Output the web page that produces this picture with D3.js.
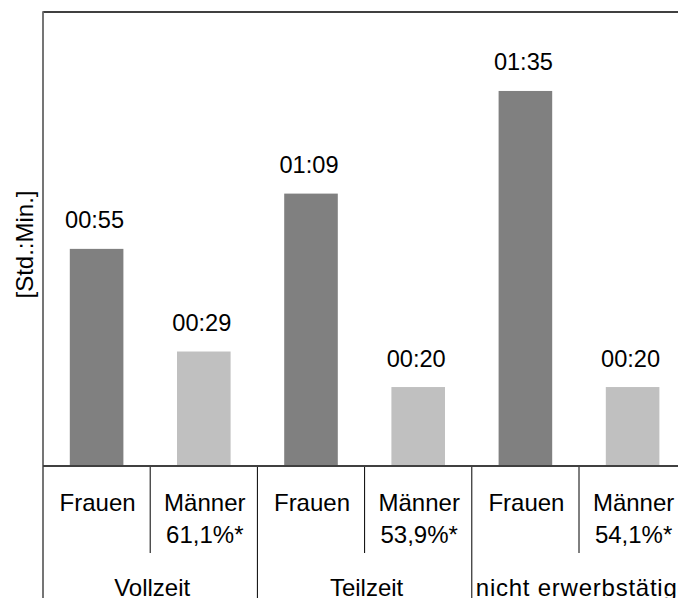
<!DOCTYPE html>
<html>
<head>
<meta charset="utf-8">
<script src="https://cdn.jsdelivr.net/npm/d3@7"></script>
<style>
  html, body { margin: 0; padding: 0; background: #fff; }
  svg { display: block; font-family: "Liberation Sans", Arial, sans-serif; }
</style>
</head>
<body>
<svg id="chart" width="678" height="598"></svg>
<script>
// ---- data ----
const groups = ["Vollzeit", "Teilzeit", "nicht erwerbstätig"];
const subLabels = ["Frauen", "Männer"];
const maennerShare = ["61,1%*", "53,9%*", "54,1%*"];
const minutes = [55, 29, 69, 20, 95, 20];
const valueLabels = ["00:55", "00:29", "01:09", "00:20", "01:35", "00:20"];
const yTitle = "[Std.:Min.]";

(function () {
  // ---- layout ----
  const W = 678, H = 598;
  const mLeft = 43, mTop = 12, base = 466;
  const step = 107.2;
  const svg = d3.select("#chart");

  const bars = minutes.map((v, i) => ({
    id: i,
    value: v,
    label: valueLabels[i],
    sex: i % 2,
    group: Math.floor(i / 2)
  }));

  const x = d3.scaleBand()
    .domain(bars.map(d => d.id))
    .range([mLeft, mLeft + step * bars.length])
    .paddingInner(0.5)
    .paddingOuter(0.25);
  const bw = x.bandwidth();
  const st = x.step();
  const binStart = i => x(i) - st * 0.25;

  const y = d3.scaleLinear().domain([0, 115]).range([base, mTop]);

  const colors = ["#808080", "#c0c0c0"];
  const fs = 24;

  // bars
  svg.append("g").selectAll("rect").data(bars).join("rect")
    .attr("x", d => x(d.id))
    .attr("y", d => y(d.value))
    .attr("width", bw)
    .attr("height", d => y(0) - y(d.value))
    .attr("fill", d => colors[d.sex]);

  // value labels
  svg.append("g").selectAll("text").data(bars).join("text")
    .attr("x", d => x(d.id) + bw / 2 - 2)
    .attr("y", d => y(d.value) - 20.5)
    .attr("text-anchor", "middle")
    .attr("font-size", 23.6)
    .attr("fill", "#000")
    .text(d => d.label);

  // top border
  svg.append("line")
    .attr("x1", mLeft).attr("x2", W)
    .attr("y1", mTop).attr("y2", mTop)
    .attr("stroke", "#000").attr("stroke-width", 1.5);

  // left axis line
  svg.append("line")
    .attr("x1", mLeft).attr("x2", mLeft)
    .attr("y1", mTop - 0.75).attr("y2", H)
    .attr("stroke", "#666").attr("stroke-width", 1.8);

  // sub separators (between Frauen and Männer)
  svg.append("g").selectAll("line").data(groups).join("line")
    .attr("x1", (g, i) => binStart(i * 2 + 1))
    .attr("x2", (g, i) => binStart(i * 2 + 1))
    .attr("y1", base).attr("y2", 553)
    .attr("stroke", "#000").attr("stroke-width", 1);

  // group separators
  svg.append("g").selectAll("line").data(groups.slice(1)).join("line")
    .attr("x1", (g, i) => binStart((i + 1) * 2))
    .attr("x2", (g, i) => binStart((i + 1) * 2))
    .attr("y1", base).attr("y2", H)
    .attr("stroke", "#000").attr("stroke-width", 1);

  // baseline
  svg.append("line")
    .attr("x1", mLeft).attr("x2", W)
    .attr("y1", y(0)).attr("y2", y(0))
    .attr("stroke", "#404040").attr("stroke-width", 2);

  // sub labels
  svg.append("g").selectAll("text").data(bars).join("text")
    .attr("x", d => x(d.id) + bw / 2 + 1)
    .attr("y", 510.5)
    .attr("text-anchor", "middle")
    .attr("font-size", fs)
    .text(d => subLabels[d.sex]);

  // Männer share labels
  svg.append("g").selectAll("text").data(maennerShare).join("text")
    .attr("x", (s, i) => x(i * 2 + 1) + bw / 2 + 1)
    .attr("y", 543)
    .attr("text-anchor", "middle")
    .attr("font-size", fs)
    .text(s => s);

  // group labels
  svg.append("g").selectAll("text").data(groups).join("text")
    .attr("x", (g, i) => binStart(i * 2) + st + 2)
    .attr("y", 595.5)
    .attr("text-anchor", "middle")
    .attr("font-size", fs)
    .each(function (g, i) {
      if (i === groups.length - 1) {
        d3.select(this)
          .attr("x", binStart(i * 2) + 4)
          .attr("text-anchor", "start")
          .attr("textLength", 201)
          .attr("lengthAdjust", "spacing");
      }
    })
    .text(g => g);

  // y-axis title
  svg.append("text")
    .attr("transform", `translate(33, ${(mTop + base) / 2 + 5.5}) rotate(-90)`)
    .attr("text-anchor", "middle")
    .attr("font-size", fs)
    .text(yTitle);
})();
</script>
</body>
</html>
